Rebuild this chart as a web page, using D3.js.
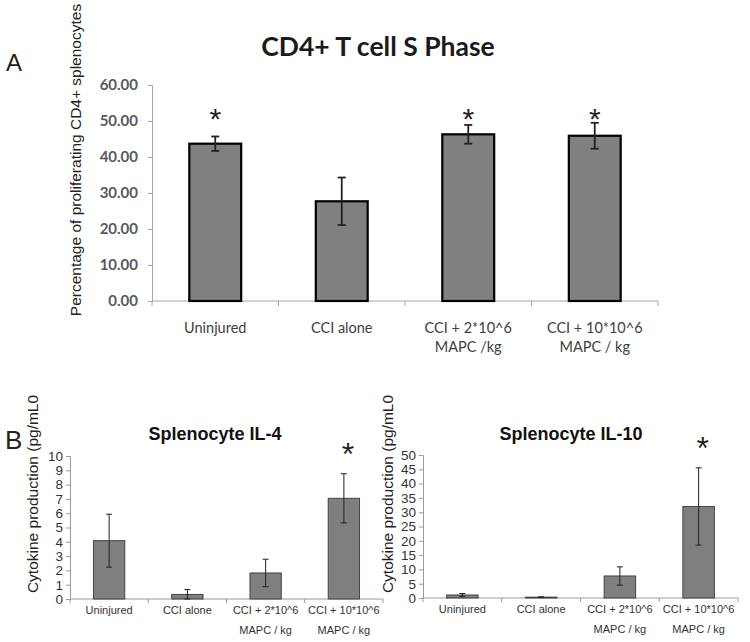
<!DOCTYPE html>
<html><head><meta charset="utf-8">
<script src="https://cdn.jsdelivr.net/npm/d3@7"></script>
<style>body{margin:0;background:#fff}svg{display:block}</style>
</head><body>
<script>
// ---- Data ----
const catsA = ["Uninjured", "CCI alone", "CCI + 2*10^6|MAPC /kg", "CCI + 10*10^6|MAPC / kg"];
const valsA = [43.7, 27.7, 46.3, 45.9];
const errA  = [2.0, 6.6, 2.6, 3.6];
const starA = [true, false, true, true];
const ticksA = [0, 10, 20, 30, 40, 50, 60];

const catsB = ["Uninjured", "CCI alone", "CCI + 2*10^6|MAPC / kg", "CCI + 10*10^6|MAPC / kg"];
const il4Vals = [4.08, 0.32, 1.82, 7.04];
const il4Err  = [1.85, 0.34, 0.96, 1.72];
const il4Star = [false, false, false, true];
const il4Ticks = [0,1,2,3,4,5,6,7,8,9,10];

const il10Vals = [1.05, 0.3, 7.7, 32.0];
const il10Err  = [0.5, 0.1, 3.2, 13.5];
const il10Star = [false, false, false, true];
const il10Ticks = [0,5,10,15,20,25,30,35,40,45,50];

const W = 750, H = 642;
const svg = d3.select("body").append("svg").attr("width", W).attr("height", H);

// ---- Panel A ----
(function(){
  const x = d3.scaleBand().domain(catsA).range([152, 658]).paddingInner(0.59).paddingOuter(0.295);
  const y = d3.scaleLinear().domain([0, 60]).range([301, 85]);
  const g = svg.append("g");
  const ya = g.append("g").attr("transform", "translate(152,0)")
    .call(d3.axisLeft(y).tickValues(ticksA).tickSize(4).tickFormat(d3.format(".2f")));
  ya.select(".domain").attr("stroke", "#a6a6a6");
  ya.selectAll(".tick line").attr("stroke", "#a6a6a6");
  ya.selectAll(".tick text").attr("x", -14).attr("font-family", "Lato").attr("font-weight", "bold")
    .attr("font-size", 15).attr("fill", "#595959");
  const xa = g.append("g").attr("transform", "translate(0,301)");
  xa.append("line").attr("x1", 152).attr("x2", 658).attr("stroke", "#a6a6a6");
  const bounds = catsA.map(c => x(c) - x.step()*x.paddingInner()/2).concat([658]);
  xa.selectAll("line.t").data(bounds).enter().append("line").attr("class","t")
    .attr("x1", d => d).attr("x2", d => d).attr("y1", 0).attr("y2", 5).attr("stroke", "#a6a6a6");
  catsA.forEach(c => {
    const cx = x(c) + x.bandwidth()/2;
    const t = g.append("text").attr("x", cx).attr("y", 333)
      .attr("text-anchor", "middle").attr("font-family", "Lato").attr("font-size", 14.5).attr("fill", "#404040");
    c.split("|").forEach((l, i) => t.append("tspan").attr("x", cx).attr("dy", i ? 19 : 0).text(l));
  });
  g.selectAll("rect.bar").data(catsA).enter().append("rect")
    .attr("x", c => x(c)).attr("width", x.bandwidth())
    .attr("y", (c,i) => y(valsA[i])).attr("height", (c,i) => 301 - y(valsA[i]))
    .attr("fill", "#808080").attr("stroke", "#000").attr("stroke-width", 2.2);
  catsA.forEach((c,i) => {
    const cx = x(c) + x.bandwidth()/2, hi = y(valsA[i]+errA[i]), lo = y(valsA[i]-errA[i]);
    g.append("line").attr("x1",cx).attr("x2",cx).attr("y1",hi).attr("y2",lo).attr("stroke","#222").attr("stroke-width",1.8);
    [hi, lo].forEach(v => g.append("line").attr("x1",cx-4).attr("x2",cx+4).attr("y1",v).attr("y2",v).attr("stroke","#222").attr("stroke-width",1.8));
    if (starA[i]) g.append("text").attr("x", cx).attr("y", 129).attr("text-anchor","middle")
      .attr("font-family","Liberation Sans").attr("font-size", 30).attr("fill","#222").text("*");
  });
  g.append("text").attr("x", 378).attr("y", 56).attr("text-anchor","middle")
    .attr("font-family","Lato").attr("font-weight","bold").attr("font-size", 26.5).attr("fill","#1a1a1a")
    .text("CD4+ T cell S Phase");
  g.append("text").attr("transform", "translate(81,160) rotate(-90)").attr("text-anchor","middle")
    .attr("font-family","Liberation Sans").attr("font-size", 15.5).attr("fill","#222")
    .text("Percentage of proliferating CD4+ splenocytes");
  svg.append("text").attr("x", 6).attr("y", 71).attr("font-family","Liberation Sans").attr("font-size", 24).attr("fill","#222").text("A");
})();

// ---- Panel B ----
function panelB(opts){
  const {cats, vals, errs, stars, ticks, x0, x1, yTop, yBot, max, title, titleX, ylabX, starY} = opts;
  const x = d3.scaleBand().domain(cats).range([x0, x1]).paddingInner(0.6).paddingOuter(0.3);
  const y = d3.scaleLinear().domain([0, max]).range([yBot, yTop]);
  const g = svg.append("g");
  const ya = g.append("g").attr("transform", `translate(${x0},0)`)
    .call(d3.axisLeft(y).tickValues(ticks).tickSize(4).tickFormat(d3.format("d")));
  ya.select(".domain").attr("stroke", "#9a9a9a");
  ya.selectAll(".tick line").attr("stroke", "#9a9a9a");
  ya.selectAll(".tick text").attr("x", -7).attr("font-family", "Liberation Sans")
    .attr("font-size", 13.5).attr("fill", "#333");
  const xa = g.append("g").attr("transform", `translate(0,${yBot})`);
  xa.append("line").attr("x1", x0).attr("x2", x1).attr("stroke", "#9a9a9a");
  const bounds = cats.map(c => x(c) - x.step()*x.paddingInner()/2).concat([x1]);
  xa.selectAll("line.t").data(bounds).enter().append("line").attr("class","t")
    .attr("x1", d => d).attr("x2", d => d).attr("y1", 0).attr("y2", 4).attr("stroke", "#9a9a9a");
  cats.forEach(c => {
    const cx = x(c) + x.bandwidth()/2;
    const t = g.append("text").attr("x", cx).attr("y", yBot + 15)
      .attr("text-anchor", "middle").attr("font-family", "Liberation Sans").attr("font-size", 11).attr("fill", "#333");
    c.split("|").forEach((l, i) => t.append("tspan").attr("x", cx).attr("dy", i ? 20 : 0).text(l));
  });
  g.selectAll("rect.bar").data(cats).enter().append("rect")
    .attr("x", c => x(c)).attr("width", x.bandwidth())
    .attr("y", (c,i) => y(vals[i])).attr("height", (c,i) => yBot - y(vals[i]))
    .attr("fill", "#7f7f7f").attr("stroke", "#444").attr("stroke-width", 1);
  cats.forEach((c,i) => {
    const cx = x(c) + x.bandwidth()/2, hi = y(vals[i]+errs[i]), lo = y(Math.max(0, vals[i]-errs[i]));
    g.append("line").attr("x1",cx).attr("x2",cx).attr("y1",hi).attr("y2",lo).attr("stroke","#222").attr("stroke-width",1);
    [hi, lo].forEach(v => g.append("line").attr("x1",cx-3).attr("x2",cx+3).attr("y1",v).attr("y2",v).attr("stroke","#222").attr("stroke-width",1));
    if (stars[i]) g.append("text").attr("x", cx + 4).attr("y", starY).attr("text-anchor","middle")
      .attr("font-family","Liberation Sans").attr("font-size", 32).attr("fill","#222").text("*");
  });
  g.append("text").attr("x", titleX).attr("y", 440).attr("text-anchor","middle")
    .attr("font-family","Liberation Sans").attr("font-weight","bold").attr("font-size", 18).attr("fill","#111")
    .text(title);
  g.append("text").attr("transform", `translate(${ylabX},494) rotate(-90)`).attr("text-anchor","middle")
    .attr("font-family","Liberation Sans").attr("font-size", 15.5).attr("fill","#222")
    .text("Cytokine production (pg/mL0");
}
panelB({cats: catsB, vals: il4Vals, errs: il4Err, stars: il4Star, ticks: il4Ticks,
  x0: 70, x1: 383, yTop: 456, yBot: 599, max: 10, title: "Splenocyte IL-4", titleX: 215, ylabX: 38, starY: 465});
panelB({cats: catsB, vals: il10Vals, errs: il10Err, stars: il10Star, ticks: il10Ticks,
  x0: 423, x1: 738, yTop: 455, yBot: 598, max: 50, title: "Splenocyte IL-10", titleX: 571, ylabX: 393, starY: 459});
svg.append("text").attr("x", 5).attr("y", 449).attr("font-family","Liberation Sans").attr("font-size", 26).attr("fill","#222").text("B");
</script>
</body></html>
